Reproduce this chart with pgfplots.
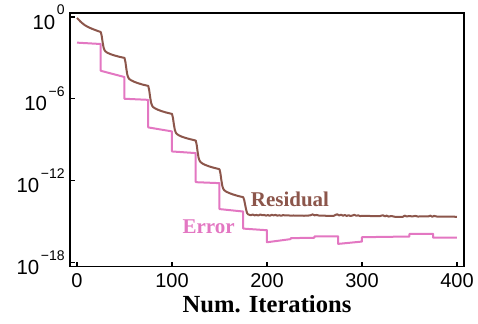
\documentclass[border=0pt]{standalone}
\usepackage{fontspec}
\setmainfont{Liberation Sans}
\newfontfamily\serifbf{Liberation Serif}
\usepackage{pgfplots}
\pgfplotsset{compat=1.18}
\definecolor{resbrown}{RGB}{140,86,75}
\definecolor{errpink}{RGB}{227,119,194}
\newcommand{\pe}[1]{10\kern0.8pt\raisebox{7.3pt}{\fontsize{7}{8}\selectfont #1}}
\begin{document}
\begin{tikzpicture}
\useasboundingbox (-35pt,-28.65pt) rectangle (204pt,133.35pt);
\begin{axis}[
 scale only axis, width=197pt, height=126.7pt,
 xmin=-7.37, xmax=407.4, ymin=-18.29, ymax=0.27,
 xtick={0,100,200,300,400},
 ytick={0,-6,-12,-18},
 yticklabels={\pe{0},\pe{−6},\pe{−12},\pe{−18}},
 tick pos=left, tick align=inside, major tick length=2.5pt,
 axis line style={line width=0.8pt},
 every tick/.style={black, line width=0.6pt},
 /pgf/number format/assume math mode=true,
 xticklabel style={anchor=base, yshift=-10.65pt, font=\fontsize{10}{12}\selectfont},
 yticklabel style={anchor=east, inner sep=0pt, xshift=-2.5pt, font=\fontsize{10.2}{12}\selectfont},
 xlabel={Num. Iterations},
 xlabel style={at={(axis description cs:0.5,0)}, anchor=base, yshift=-22.7pt, font=\serifbf\bfseries\fontsize{12.3}{14}\selectfont},
]
% Residual (log10 values)
\addplot[resbrown, line width=1pt, line join=round] coordinates {
(0,-0.07) (2,-0.22) (4,-0.36) (6,-0.48) (8,-0.59) (10,-0.67) (13,-0.78) (16,-0.87) (19,-0.95) (22,-1.03) (24,-1.08) (25,-1.10)
(26,-1.385) (27,-1.86) (28,-2.24) (29,-2.43) (30,-2.525) (32,-2.62) (35,-2.715) (39,-2.81) (44,-2.905) (50,-3.0)
(51,-3.31) (52,-3.82) (53,-4.23) (54,-4.435) (55,-4.54) (57,-4.64) (60,-4.74) (64,-4.845) (69,-4.95) (75,-5.05)
(76,-5.36) (77,-5.87) (78,-6.28) (79,-6.485) (80,-6.59) (82,-6.69) (85,-6.79) (89,-6.895) (94,-7.0) (100,-7.1)
(101,-7.39) (102,-7.88) (103,-8.27) (104,-8.465) (105,-8.56) (107,-8.66) (110,-8.76) (114,-8.855) (119,-8.95) (125,-9.05)
(126,-9.365) (127,-9.89) (128,-10.31) (129,-10.52) (130,-10.625) (132,-10.73) (135,-10.835) (139,-10.94) (144,-11.045) (150,-11.15)
(151,-11.46) (152,-11.97) (153,-12.38) (154,-12.585) (155,-12.69) (157,-12.79) (160,-12.89) (164,-12.995) (169,-13.1) (175,-13.2)
(176,-13.4) (177,-13.75) (178,-14.1) (179,-14.35) (180,-14.45)
(181,-14.48) (183,-14.52) (185,-14.47) (187,-14.53) (189,-14.50) (191,-14.54) (193,-14.47) (195,-14.52) (197,-14.50) (199,-14.55)
(201,-14.51) (203,-14.56) (205,-14.49) (207,-14.53) (209,-14.50) (211,-14.55) (213,-14.52) (215,-14.56) (217,-14.51) (219,-14.54)
(222,-14.53) (225,-14.55) (228,-14.54) (231,-14.55) (235,-14.55) (239,-14.56) (243,-14.55) (246,-14.52) (248,-14.46) (250,-14.53)
(252,-14.50) (255,-14.55) (258,-14.55) (262,-14.56) (266,-14.56) (270,-14.57) (272,-14.50) (274,-14.45) (276,-14.54) (278,-14.48)
(280,-14.56) (282,-14.50) (284,-14.57) (286,-14.52) (288,-14.58) (290,-14.54) (292,-14.49) (294,-14.56) (296,-14.53) (298,-14.58)
(301,-14.57) (305,-14.57) (310,-14.58) (315,-14.58) (319,-14.58) (322,-14.52) (324,-14.60) (326,-14.55) (328,-14.62) (331,-14.58)
(335,-14.64) (340,-14.64) (343,-14.64) (345,-14.55) (347,-14.61) (350,-14.58) (353,-14.61) (356,-14.57) (359,-14.62) (362,-14.60)
(365,-14.61) (370,-14.61) (372,-14.55) (374,-14.63) (376,-14.57) (379,-14.62) (383,-14.62) (388,-14.62) (393,-14.63) (397,-14.63) (400,-14.64)
};
% Error (log10 values)
\addplot[errpink, line width=1pt, line join=round] coordinates {
(0,-1.88) (25,-1.98) (25,-3.94) (50,-4.40) (50,-5.99) (75,-6.07) (75,-8.09) (100,-8.38)
(100,-9.85) (125,-9.97) (125,-12.10) (150,-12.17) (150,-14.07) (175,-14.25) (175,-15.50) (200,-15.62)
(200,-16.50) (225,-16.27) (225,-16.20) (250,-16.17) (250,-16.07) (275,-16.07) (275,-16.62) (300,-16.45)
(300,-16.13) (350,-16.08) (350,-15.88) (375,-15.88) (375,-16.17) (400,-16.17)
};
\node[resbrown, anchor=base, font=\serifbf\bfseries\fontsize{10.5}{12}\selectfont] at (axis cs:224.2,-13.9) {Residual};
\node[errpink, anchor=base, font=\serifbf\bfseries\fontsize{10.5}{12}\selectfont] at (axis cs:138.6,-15.83) {Error};
\end{axis}
\end{tikzpicture}
\end{document}
